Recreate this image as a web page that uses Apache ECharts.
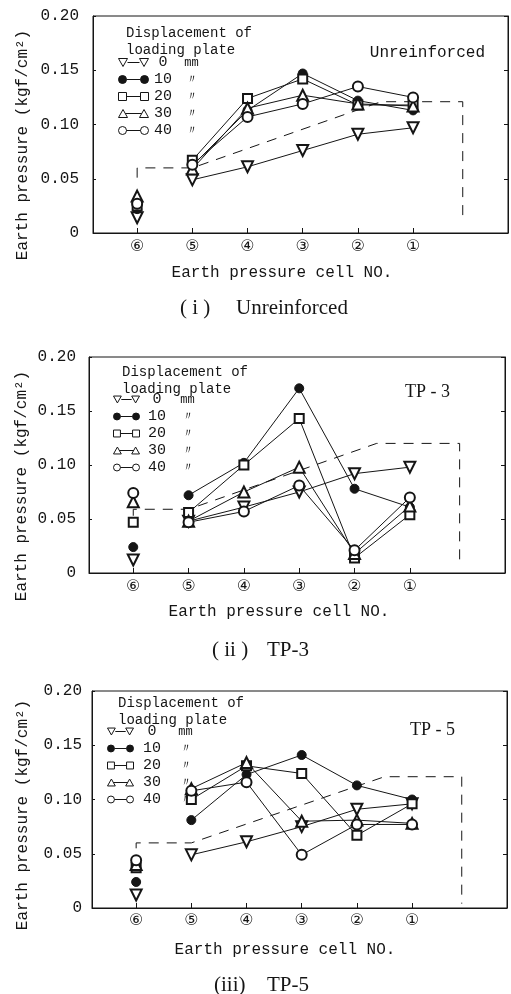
<!DOCTYPE html>
<html><head><meta charset="utf-8">
<script src="https://cdn.jsdelivr.net/npm/echarts@6/dist/echarts.min.js"></script>
<style>html,body{margin:0;padding:0;background:#fff}#c{width:511px;height:994px}</style>
</head><body><div id="c"></div>
<script>
// ---------------- data ----------------
const cells = ['⑥','⑤','④','③','②','①'];
const cellPos = [0, 1, 2, 3, 4, 5];
const yTickLabels = ['0', '0.05', '0.10', '0.15', '0.20'];
const displacements = ['0', '10', '20', '30', '40'];
const units = ['mm', '〃', '〃', '〃', '〃'];
const panelNames = ['Unreinforced', 'TP - 3', 'TP - 5'];
const captionTags = ['( i )', '( ii )', '(iii)'];
const captionNames = ['Unreinforced', 'TP-3', 'TP-5'];

// values in order ⑥ ⑤ ④ ③ ② ①
const unr0  = [0.014, 0.049, 0.061, 0.076, 0.091, 0.097];
const unr10 = [0.022, 0.062, 0.113, 0.147, 0.122, 0.113];
const unr20 = [0.025, 0.067, 0.124, 0.142, 0.118, 0.118];
const unr30 = [0.034, 0.059, 0.115, 0.127, 0.119, 0.117];
const unr40 = [0.027, 0.063, 0.107, 0.119, 0.135, 0.125];

const tp3_0  = [0.012, 0.048, 0.061, 0.075, 0.092, 0.098];
const tp3_10 = [0.024, 0.072, 0.102, 0.171, 0.078, 0.061];
const tp3_20 = [0.047, 0.056, 0.100, 0.143, 0.014, 0.054];
const tp3_30 = [0.066, 0.048, 0.075, 0.098, 0.018, 0.062];
const tp3_40 = [0.074, 0.047, 0.057, 0.081, 0.021, 0.070];

const tp5_0  = [0.012, 0.049, 0.061, 0.075, 0.091, 0.096];
const tp5_10 = [0.024, 0.081, 0.123, 0.141, 0.113, 0.100];
const tp5_20 = [0.037, 0.100, 0.131, 0.124, 0.067, 0.096];
const tp5_30 = [0.040, 0.110, 0.134, 0.080, 0.081, 0.078];
const tp5_40 = [0.044, 0.108, 0.116, 0.049, 0.077, 0.077];

// dashed reference line (x in cell-position units)
const unrTheoryX = [0, 0, 1, 4.42, 5.9, 5.9];
const unrTheoryY = [0.051, 0.060, 0.060, 0.121, 0.121, 0.010];
const tp3TheoryX = [0, 0, 1, 4.4, 5.9, 5.9];
const tp3TheoryY = [0.053, 0.059, 0.059, 0.120, 0.120, 0.012];
const tp5TheoryX = [0, 0, 1, 4.5, 5.9, 5.9];
const tp5TheoryY = [0.055, 0.060, 0.060, 0.121, 0.121, 0.004];

const panelData = [
  [unr0, unr10, unr20, unr30, unr40],
  [tp3_0, tp3_10, tp3_20, tp3_30, tp3_40],
  [tp5_0, tp5_10, tp5_20, tp5_30, tp5_40]
];
const theoryData = [[unrTheoryX, unrTheoryY], [tp3TheoryX, tp3TheoryY], [tp5TheoryX, tp5TheoryY]];

// ---------------- layout / styles ----------------
const INK = '#151515';
const MONO = '"Liberation Mono", "DejaVu Sans Mono", monospace';
const SERIF = '"Liberation Serif", "DejaVu Serif", serif';
const grids = [
  {left: 93, top: 16, width: 415, height: 217},
  {left: 89, top: 357, width: 416, height: 216},
  {left: 92, top: 691, width: 415, height: 217}
];
const yLabelMargin = [14, 13, 10];
const xLabelMargin = [6, 6, 5];
const yTitlePos = [[23, 145], [22, 486], [23, 815]];
const xTitlePos = [[282, 273], [279, 612], [285, 950]];
const captionTagPos = [[180, 308], [212, 650], [214, 985]];
const captionNamePos = [[236, 308], [267, 650], [267, 985]];
const legendHead = [[126, 33], [122, 372], [118, 703]];
const legendPos = [[113, 50], [108, 387], [102, 719]];
const legendIconW = [30, 26, 26];
const legendNumW = [19, 25, 27];
const legendUnitW = [38, 36, 40];

const symbolDefs = [
  {symbol: 'emptyTriangle', rotate: 180, size: 11},
  {symbol: 'circle', rotate: 0, size: 9},
  {symbol: 'emptyRect', rotate: 0, size: 9},
  {symbol: 'emptyTriangle', rotate: 0, size: 11},
  {symbol: 'emptyCircle', rotate: 0, size: 10}
];
const legendIcons = [
  'path://M0,0L9,0L4.5,8Z M21,0L30,0L25.5,8Z M9,4L21,4',
  'path://M0,4a4,4 0 1,0 8,0a4,4 0 1,0 -8,0Z M22,4a4,4 0 1,0 8,0a4,4 0 1,0 -8,0Z M8,4L22,4',
  'path://M0,0L8,0L8,8L0,8Z M22,0L30,0L30,8L22,8Z M8,4L22,4',
  'path://M4.5,0L9,8L0,8Z M25.5,0L30,8L21,8Z M6.75,4L23.25,4',
  'path://M0,4a4,4 0 1,0 8,0a4,4 0 1,0 -8,0Z M22,4a4,4 0 1,0 8,0a4,4 0 1,0 -8,0Z M8,4L22,4'
];
const legendFill = ['#fff', INK, '#fff', '#fff', '#fff'];

const xAxis = [], yAxis = [], series = [], legend = [], graphic = [];

grids.forEach((g, p) => {
  xAxis.push({
    type: 'value', gridIndex: p, min: -0.8, max: 6.72,
    axisLine: {show: true, onZero: false, lineStyle: {color: INK, width: 1}},
    axisTick: {show: true, inside: true, length: 5, customValues: cellPos, lineStyle: {color: INK}},
    axisLabel: {show: true, customValues: cellPos, margin: xLabelMargin[p],
      formatter: v => cells[cellPos.indexOf(v)],
      color: INK, fontSize: 16, fontFamily: '"DejaVu Sans", "Noto Sans CJK JP", sans-serif'},
    splitLine: {show: false}
  });
  yAxis.push({
    type: 'value', gridIndex: p, position: 'left', min: 0, max: 0.2, interval: 0.05,
    axisLine: {show: true, onZero: false, lineStyle: {color: INK, width: 1}},
    axisTick: {show: true, inside: true, length: 3, lineStyle: {color: INK}},
    axisLabel: {show: true, margin: yLabelMargin[p], color: INK, fontSize: 16, fontFamily: MONO,
      formatter: v => yTickLabels[Math.round(v / 0.05)]},
    splitLine: {show: false}
  });
  yAxis.push({
    type: 'value', gridIndex: p, position: 'right', min: 0, max: 0.2, interval: 0.05,
    axisLine: {show: true, onZero: false, lineStyle: {color: INK, width: 1}},
    axisTick: {show: true, inside: true, length: 4, lineStyle: {color: INK}},
    axisLabel: {show: false}, splitLine: {show: false}
  });

  // dashed reference line
  const [tx, ty] = theoryData[p];
  series.push({
    type: 'line', name: 'theory' + p, xAxisIndex: p, yAxisIndex: 2 * p,
    data: tx.map((x, i) => [x, ty[i]]), symbol: 'none', silent: true, z: 1,
    lineStyle: {color: INK, width: 1, type: [10, 8]}
  });

  panelData[p].forEach((vals, k) => {
    const sd = symbolDefs[k];
    const common = {
      name: displacements[k], xAxisIndex: p, yAxisIndex: 2 * p,
      symbol: sd.symbol, symbolRotate: sd.rotate, symbolSize: sd.size,
      itemStyle: {color: INK, borderColor: INK, borderWidth: 1, opacity: 1}, z: 3
    };
    series.push(Object.assign({}, common, {
      type: 'line',
      data: cellPos.slice(1).map((x, i) => [x, vals[i + 1]]),
      showAllSymbol: true,
      lineStyle: {color: INK, width: 1}
    }));
    series.push(Object.assign({}, common, {
      type: 'scatter',
      data: [[cellPos[0], vals[0]]]
    }));
  });

  legend.push({
    orient: 'vertical', left: legendPos[p][0], top: legendPos[p][1],
    itemWidth: legendIconW[p], itemHeight: 9, itemGap: 2, selectedMode: false,
    data: displacements.map((d, k) => ({
      name: d, icon: legendIcons[k],
      itemStyle: {color: legendFill[k], borderColor: INK, borderWidth: 1}
    })),
    formatter: name => `{n|${name}}{u|${units[displacements.indexOf(name)]}}`,
    textStyle: {
      color: INK,
      rich: {
        n: {width: legendNumW[p], align: 'right', fontSize: 15, fontFamily: MONO, color: INK, lineHeight: 15},
        u: {width: legendUnitW[p], align: 'center', fontSize: 12, fontFamily: MONO, color: INK, lineHeight: 15}
      }
    }
  });

  const txt = (x, y, text, font, align, vAlign, extra) => Object.assign({
    type: 'text', x: x, y: y,
    style: {text: text, font: font, fill: INK, align: align, textAlign: align,
      verticalAlign: vAlign, textVerticalAlign: vAlign}
  }, extra || {});

  graphic.push(txt(yTitlePos[p][0], yTitlePos[p][1], 'Earth pressure (kgf/cm²)', '16px ' + MONO, 'center', 'middle', {rotation: Math.PI / 2}));
  graphic.push(txt(xTitlePos[p][0], xTitlePos[p][1], 'Earth pressure cell NO.', '16px ' + MONO, 'center', 'middle'));
  graphic.push(txt(captionTagPos[p][0], captionTagPos[p][1], captionTags[p], '21px ' + SERIF, 'left', 'middle'));
  graphic.push(txt(captionNamePos[p][0], captionNamePos[p][1], captionNames[p], '21px ' + SERIF, 'left', 'middle'));
  graphic.push(txt(legendHead[p][0], legendHead[p][1], 'Displacement of', '14px ' + MONO, 'left', 'middle'));
  graphic.push(txt(legendHead[p][0], legendHead[p][1] + 17, 'loading plate', '14px ' + MONO, 'left', 'middle'));
});
graphic.push({type: 'text', x: 485, y: 53, style: {text: panelNames[0], font: '16px ' + MONO, fill: INK, align: 'right', textAlign: 'right', verticalAlign: 'middle', textVerticalAlign: 'middle'}});
graphic.push({type: 'text', x: 405, y: 392, style: {text: panelNames[1], font: '18px ' + SERIF, fill: INK, align: 'left', textAlign: 'left', verticalAlign: 'middle', textVerticalAlign: 'middle'}});
graphic.push({type: 'text', x: 410, y: 730, style: {text: panelNames[2], font: '18px ' + SERIF, fill: INK, align: 'left', textAlign: 'left', verticalAlign: 'middle', textVerticalAlign: 'middle'}});

const chart = echarts.init(document.getElementById('c'), null, {renderer: 'canvas'});
chart.setOption({
  backgroundColor: '#fff',
  animation: false,
  grid: grids.map(g => Object.assign({show: true, borderColor: INK, borderWidth: 1, backgroundColor: 'transparent', containLabel: false, outerBoundsMode: 'none'}, g)),
  xAxis: xAxis,
  yAxis: yAxis,
  legend: legend,
  series: series,
  graphic: graphic
});
</script>
</body></html>
